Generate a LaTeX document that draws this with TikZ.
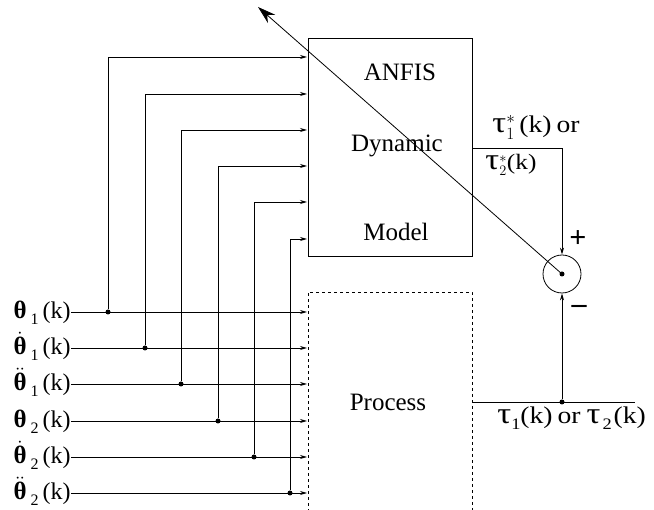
\documentclass[tikz,border=0pt]{standalone}
\usepackage{fontspec}
\setmainfont{Liberation Serif}
\newfontfamily\widefont[FakeStretch=1.15]{Liberation Serif}
\usetikzlibrary{arrows.meta}
\tikzset{
  dot/.style={circle, fill, inner sep=0pt, minimum size=5pt},
  inarrow/.style={-{Stealth[length=7pt,width=4pt]}},
  lbl/.style={font=\fontsize{24}{26}\selectfont, inner sep=0pt},
  boxtext/.style={font=\fontsize{25}{27}\selectfont, inner sep=0pt},
}
\newcommand{\lowidx}[1]{\raisebox{-6pt}{\fontsize{16}{16}\selectfont #1}}
\newcommand{\thb}{{\fontsize{25}{25}\selectfont\bfseries θ}}
\newcommand{\thbd}{$\dot{\mbox{\thb}}$}
\newcommand{\thbdd}{$\ddot{\mbox{\thb}}$}
\newcommand{\tauc}{{\fontsize{30}{30}\selectfont τ}}
\begin{document}
\begin{tikzpicture}[x=1pt, y=-1pt, line width=0.8pt]
	\useasboundingbox (0,0) rectangle (654,510);

		\node[draw, anchor=north west, minimum width=164pt, minimum height=218pt] (anfis) at (308,38) {};
		\node[boxtext] (n1) at (400,72) {ANFIS};
		\node[boxtext] (n2) at (397,146) {Dynamic};
		\node[boxtext] (n3) at (396,232) {Model};

		\draw[dashed] (308,512) |- (472,292) -- (472,512);
		\node[boxtext] (proc) at (388,402) {Process};

		\node[lbl, anchor=base east] (t1) at (71,319) {\thb\,\lowidx{1}\,(k)};
		\node[lbl, anchor=base east] (t2) at (71,355) {\thbd\,\lowidx{1}\,(k)};
		\node[lbl, anchor=base east] (t3) at (71,391) {\thbdd\,\lowidx{1}\,(k)};
		\node[lbl, anchor=base east] (t4) at (71,428) {\thb\,\lowidx{2}\,(k)};
		\node[lbl, anchor=base east] (t5) at (71,464) {\thbd\,\lowidx{2}\,(k)};
		\node[lbl, anchor=base east] (t6) at (71,500) {\thbdd\,\lowidx{2}\,(k)};

		\coordinate (p1) at (307,312);
		\coordinate (p2) at (307,348);
		\coordinate (p3) at (307,384);
		\coordinate (p4) at (307,421);
		\coordinate (p5) at (307,457);
		\coordinate (p6) at (307,493);

		\coordinate (a1) at (307,57);
		\coordinate (a2) at (307,94);
		\coordinate (a3) at (307,130);
		\coordinate (a4) at (307,166);
		\coordinate (a5) at (307,202);
		\coordinate (a6) at (307,239);

		\node[dot] (b1) at (108,312) {};
		\node[dot] (b2) at (145,348) {};
		\node[dot] (b3) at (181,384) {};
		\node[dot] (b4) at (218,421) {};
		\node[dot] (b5) at (254,457) {};
		\node[dot] (b6) at (290,493) {};

		\draw[inarrow] (p1 -| t1.east) -- (p1);
		\draw[inarrow] (p2 -| t2.east) -- (p2);
		\draw[inarrow] (p3 -| t3.east) -- (p3);
		\draw[inarrow] (p4 -| t4.east) -- (p4);
		\draw[inarrow] (p5 -| t5.east) -- (p5);
		\draw[inarrow] (p6 -| t6.east) -- (p6);

		\draw[inarrow] (b1) |- (a1);
		\draw[inarrow] (b2) |- (a2);
		\draw[inarrow] (b3) |- (a3);
		\draw[inarrow] (b4) |- (a4);
		\draw[inarrow] (b5) |- (a5);
		\draw[inarrow] (b6) |- (a6);

		\node[draw, circle, minimum size=38pt, inner sep=0pt] (sum) at (562,274) {};
		\node[dot] (c) at (sum.center) {};
		\node[lbl, font=\fontsize{30}{30}\selectfont\bfseries] (plus) at (578,239) {+};
		\node[lbl, font=\fontsize{30}{30}\selectfont\bfseries] (minus) at (579,309) {–};

		\coordinate (aout) at (472,148);
		\coordinate (pout) at (472,402);
		\coordinate (yend) at (635,402);
		\node[dot] (j) at (562,402) {};
		\coordinate (tip) at (258,7);

		\draw[inarrow] (aout) -| (sum.north);
		\draw (pout) -- (yend);
		\draw[inarrow] (j) -- (sum.south);
		\draw[-{Stealth[length=18pt,width=11pt]}] (c.center) -- (tip);

		\node[lbl, anchor=base west, font=\fontsize{24}{26}\widefont] (tau1) at (492,133) {\tauc$^{*}_{1}$\,(k)\hspace{5pt}or};
		\node[lbl, anchor=base west, font=\fontsize{22}{24}\widefont] (tau2) at (485,170) {\tauc$^{*}_{2}$(k)};
		\node[lbl, anchor=base west, font=\fontsize{24}{26}\widefont] (tau3) at (497,424) {\tauc\lowidx{1}(k)\hspace{5pt}or\hspace{6pt}\tauc\hspace{2pt}\lowidx{2}\hspace{2pt}(k)};
\end{tikzpicture}
\end{document}
